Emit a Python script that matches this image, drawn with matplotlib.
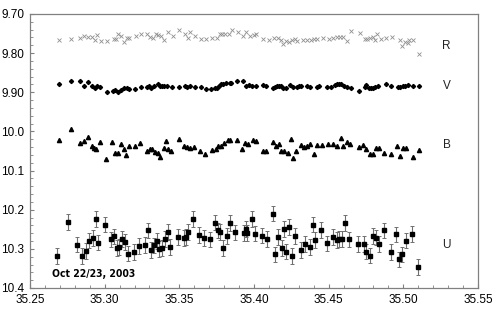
import numpy as np
import matplotlib
matplotlib.use("Agg")
import matplotlib.pyplot as plt
from matplotlib.ticker import MultipleLocator, FixedLocator, FixedFormatter

# R band (crosses)
r_x = [35.2696, 35.2775, 35.2835, 35.2864, 35.2891, 35.2918, 35.2935, 35.2951, 35.2976, 35.3018,
       35.3060, 35.3074, 35.3092, 35.3109, 35.3132, 35.3150, 35.3165, 35.3210, 35.3243, 35.3284,
       35.3306, 35.3324, 35.3342, 35.3360, 35.3377, 35.3400, 35.3426, 35.3460, 35.3500, 35.3538,
       35.3556, 35.3574, 35.3605, 35.3645, 35.3681, 35.3721, 35.3753, 35.3771, 35.3784, 35.3806,
       35.3833, 35.3855, 35.3891, 35.3927, 35.3949, 35.3971, 35.4003, 35.4014, 35.4063, 35.4099,
       35.4134, 35.4163, 35.4179, 35.4197, 35.4215, 35.4233, 35.4255, 35.4273, 35.4290, 35.4326,
       35.4357, 35.4384, 35.4402, 35.4420, 35.4465, 35.4505, 35.4527, 35.4558, 35.4576, 35.4599,
       35.4625, 35.4648, 35.4710, 35.4746, 35.4759, 35.4777, 35.4799, 35.4811, 35.4822, 35.4849,
       35.4884, 35.4925, 35.4978, 35.4992, 35.5014, 35.5032, 35.5041, 35.5067, 35.5108]
r_y = [9.766, 9.764, 9.762, 9.757, 9.760, 9.758, 9.766, 9.754, 9.769, 9.769,
       9.765, 9.765, 9.752, 9.756, 9.772, 9.761, 9.761, 9.755, 9.751, 9.752,
       9.760, 9.762, 9.752, 9.754, 9.755, 9.767, 9.745, 9.757, 9.741, 9.752,
       9.761, 9.747, 9.755, 9.765, 9.765, 9.762, 9.762, 9.750, 9.752, 9.752,
       9.752, 9.742, 9.747, 9.755, 9.747, 9.755, 9.754, 9.752, 9.764, 9.766,
       9.762, 9.762, 9.766, 9.777, 9.769, 9.772, 9.767, 9.765, 9.768, 9.766,
       9.766, 9.766, 9.763, 9.765, 9.762, 9.765, 9.762, 9.760, 9.758, 9.760,
       9.768, 9.743, 9.748, 9.764, 9.764, 9.762, 9.760, 9.766, 9.752, 9.763,
       9.762, 9.758, 9.767, 9.781, 9.771, 9.775, 9.767, 9.766, 9.802]

# V band (diamonds)
v_x = [35.2696, 35.2775, 35.2835, 35.2862, 35.2891, 35.2913, 35.2935, 35.2951, 35.2969, 35.3018,
       35.3054, 35.3069, 35.3092, 35.3107, 35.3129, 35.3147, 35.3165, 35.3205, 35.3241, 35.3281,
       35.3297, 35.3310, 35.3330, 35.3357, 35.3371, 35.3386, 35.3400, 35.3415, 35.3451, 35.3498,
       35.3538, 35.3554, 35.3571, 35.3603, 35.3643, 35.3676, 35.3714, 35.3739, 35.3754, 35.3768,
       35.3779, 35.3795, 35.3813, 35.3839, 35.3848, 35.3888, 35.3924, 35.3946, 35.3964, 35.3987,
       35.4014, 35.4059, 35.4081, 35.4130, 35.4143, 35.4156, 35.4170, 35.4183, 35.4197, 35.4215,
       35.4241, 35.4260, 35.4286, 35.4300, 35.4317, 35.4357, 35.4375, 35.4420, 35.4438, 35.4487,
       35.4514, 35.4541, 35.4558, 35.4572, 35.4585, 35.4603, 35.4625, 35.4652, 35.4702, 35.4742,
       35.4751, 35.4769, 35.4786, 35.4800, 35.4813, 35.4831, 35.4884, 35.4916, 35.4965, 35.4978,
       35.4996, 35.5014, 35.5032, 35.5067, 35.5108]
v_y = [9.878, 9.870, 9.871, 9.885, 9.873, 9.884, 9.888, 9.884, 9.887, 9.898,
       9.897, 9.894, 9.898, 9.894, 9.888, 9.889, 9.892, 9.891, 9.887, 9.887,
       9.885, 9.890, 9.885, 9.878, 9.884, 9.885, 9.885, 9.884, 9.887, 9.887,
       9.884, 9.886, 9.885, 9.887, 9.887, 9.892, 9.891, 9.888, 9.888, 9.883,
       9.879, 9.878, 9.877, 9.877, 9.877, 9.870, 9.872, 9.885, 9.882, 9.884,
       9.885, 9.882, 9.884, 9.889, 9.886, 9.885, 9.884, 9.885, 9.888, 9.889,
       9.882, 9.886, 9.887, 9.885, 9.885, 9.885, 9.887, 9.887, 9.885, 9.887,
       9.887, 9.882, 9.880, 9.878, 9.880, 9.884, 9.886, 9.889, 9.897, 9.886,
       9.882, 9.888, 9.890, 9.888, 9.886, 9.885, 9.878, 9.885, 9.887, 9.887,
       9.885, 9.884, 9.882, 9.885, 9.885]

# B band (triangles)
b_x = [35.2694, 35.2772, 35.2835, 35.2862, 35.2891, 35.2913, 35.2931, 35.2944, 35.2969, 35.3009,
       35.3051, 35.3069, 35.3092, 35.3110, 35.3128, 35.3143, 35.3165, 35.3203, 35.3237, 35.3284,
       35.3302, 35.3319, 35.3337, 35.3355, 35.3373, 35.3395, 35.3411, 35.3426, 35.3444, 35.3498,
       35.3534, 35.3552, 35.3570, 35.3600, 35.3641, 35.3674, 35.3717, 35.3746, 35.3761, 35.3779,
       35.3797, 35.3824, 35.3842, 35.3884, 35.3922, 35.3940, 35.3962, 35.3996, 35.4012, 35.4061,
       35.4081, 35.4130, 35.4148, 35.4166, 35.4183, 35.4201, 35.4228, 35.4246, 35.4264, 35.4281,
       35.4317, 35.4335, 35.4353, 35.4375, 35.4402, 35.4420, 35.4456, 35.4496, 35.4527, 35.4558,
       35.4581, 35.4598, 35.4620, 35.4643, 35.4701, 35.4732, 35.4750, 35.4776, 35.4794, 35.4817,
       35.4835, 35.4870, 35.4915, 35.4955, 35.4977, 35.5000, 35.5018, 35.5062, 35.5103]
b_y = [10.022, 9.994, 10.029, 10.024, 10.013, 10.037, 10.042, 10.045, 10.028, 10.071,
       10.027, 10.055, 10.055, 10.031, 10.044, 10.061, 10.037, 10.037, 10.030, 10.050,
       10.044, 10.044, 10.052, 10.054, 10.066, 10.043, 10.024, 10.045, 10.050, 10.019,
       10.038, 10.040, 10.043, 10.040, 10.050, 10.058, 10.047, 10.045, 10.037, 10.038,
       10.030, 10.023, 10.023, 10.021, 10.044, 10.030, 10.032, 10.022, 10.024, 10.049,
       10.050, 10.028, 10.037, 10.033, 10.050, 10.050, 10.054, 10.020, 10.069, 10.050,
       10.035, 10.039, 10.037, 10.033, 10.058, 10.035, 10.035, 10.033, 10.033, 10.037,
       10.016, 10.037, 10.027, 10.031, 10.039, 10.035, 10.044, 10.058, 10.058, 10.042,
       10.042, 10.055, 10.058, 10.037, 10.063, 10.042, 10.042, 10.066, 10.048]

# U band (squares with error bars)
u_x = [35.2683, 35.2757, 35.2817, 35.2846, 35.2875, 35.2897, 35.2920, 35.2940, 35.2958, 35.3004,
       35.3045, 35.3063, 35.3080, 35.3098, 35.3118, 35.3136, 35.3158, 35.3196, 35.3230, 35.3272,
       35.3288, 35.3310, 35.3330, 35.3348, 35.3366, 35.3384, 35.3406, 35.3422, 35.3440, 35.3491,
       35.3529, 35.3545, 35.3560, 35.3594, 35.3634, 35.3665, 35.3708, 35.3741, 35.3759, 35.3772,
       35.3790, 35.3819, 35.3839, 35.3875, 35.3931, 35.3946, 35.3955, 35.3987, 35.4007, 35.4051,
       35.4085, 35.4127, 35.4141, 35.4163, 35.4185, 35.4203, 35.4217, 35.4234, 35.4254, 35.4277,
       35.4313, 35.4344, 35.4373, 35.4397, 35.4411, 35.4451, 35.4491, 35.4529, 35.4556, 35.4571,
       35.4589, 35.4612, 35.4634, 35.4696, 35.4737, 35.4750, 35.4777, 35.4795, 35.4817, 35.4835,
       35.4871, 35.4915, 35.4949, 35.4969, 35.4993, 35.5018, 35.5060, 35.5096]
u_y = [10.319, 10.231, 10.289, 10.319, 10.306, 10.279, 10.273, 10.224, 10.284, 10.238,
       10.276, 10.268, 10.297, 10.296, 10.275, 10.283, 10.312, 10.308, 10.292, 10.290,
       10.253, 10.303, 10.291, 10.280, 10.300, 10.297, 10.275, 10.257, 10.295, 10.269,
       10.273, 10.269, 10.257, 10.223, 10.264, 10.273, 10.276, 10.233, 10.253, 10.257,
       10.297, 10.267, 10.234, 10.258, 10.259, 10.249, 10.259, 10.224, 10.261, 10.266,
       10.274, 10.210, 10.314, 10.269, 10.298, 10.249, 10.307, 10.244, 10.319, 10.267,
       10.303, 10.288, 10.296, 10.238, 10.278, 10.252, 10.286, 10.269, 10.277, 10.275,
       10.275, 10.234, 10.276, 10.288, 10.288, 10.307, 10.317, 10.267, 10.271, 10.287,
       10.253, 10.308, 10.263, 10.327, 10.314, 10.279, 10.262, 10.346]
u_err = 0.02

band_names = ["R", "V", "B", "U"]
band_label_y = [9.783, 9.884, 10.034, 10.289]

y_ticks = [9.70, 9.80, 9.90, 10.0, 10.1, 10.2, 10.3, 10.4]
y_ticklabels = ["9.70", "9.80", "9.90", "10.0", "10.1", "10.2", "10.3", "10.4"]
x_ticks = [35.25, 35.30, 35.35, 35.40, 35.45, 35.50, 35.55]
x_ticklabels = ["35.25", "35.30", "35.35", "35.40", "35.45", "35.50", "35.55"]

plt.rcParams['font.family'] = ['Liberation Sans', 'DejaVu Sans']

fig = plt.figure(figsize=(5.01, 3.13), dpi=100)
ax = fig.add_axes([30 / 501, 1 - 288 / 313, 448 / 501, 274 / 313])

ax.plot(r_x, r_y, 'x', color='#909090', markersize=2.8, markeredgewidth=0.6, linestyle='none')
ax.plot(v_x, v_y, 'D', color='black', markersize=2.1, linestyle='none')
ax.plot(b_x, b_y, '^', color='black', markersize=3.0, linestyle='none')
ax.errorbar(u_x, u_y, yerr=u_err, fmt='s', color='black', markersize=2.5,
            ecolor='#707070', elinewidth=0.8, capsize=1.6, capthick=0.7)

for name, yy in zip(band_names, band_label_y):
    ax.text(35.529, yy, name, fontsize=8.5, ha='center', va='center', color='#222222')

ax.text(35.2647, 10.363, "Oct 22/23, 2003", fontsize=7.5, fontweight='bold',
        fontstretch='condensed', family=['DejaVu Sans'], ha='left', va='center')

ax.set_xlim(35.25, 35.55)
ax.set_ylim(10.4, 9.70)
ax.xaxis.set_major_locator(FixedLocator(x_ticks))
ax.xaxis.set_major_formatter(FixedFormatter(x_ticklabels))
ax.yaxis.set_major_locator(FixedLocator(y_ticks))
ax.yaxis.set_major_formatter(FixedFormatter(y_ticklabels))
ax.xaxis.set_minor_locator(MultipleLocator(0.01))
ax.yaxis.set_minor_locator(MultipleLocator(0.02))
ax.tick_params(which='both', direction='in', color='#808080', labelsize=8.5, pad=4)
ax.tick_params(which='major', length=3)
ax.tick_params(which='minor', length=2)
for s in ax.spines.values():
    s.set_color('#808080')
    s.set_linewidth(0.9)

fig.savefig("out.png", dpi=100)
